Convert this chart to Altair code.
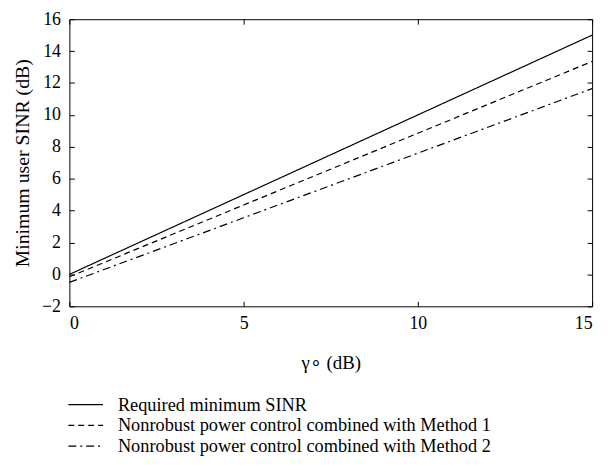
import altair as alt
import pandas as pd

x_vals = [0, 5, 10, 15]
required = [0.0, 5.0, 10.0, 15.0]
method1 = [-0.15, 4.35, 8.85, 13.35]
method2 = [-0.5, 3.55, 7.6, 11.65]
series = [
    "Required minimum SINR",
    "Nonrobust power control combined with Method 1",
    "Nonrobust power control combined with Method 2",
]
x_ticks = [0, 5, 10, 15]
y_ticks = [-2, 0, 2, 4, 6, 8, 10, 12, 14, 16]

rows = []
for name, vals in zip(series, [required, method1, method2]):
    for x, y in zip(x_vals, vals):
        rows.append({"x": x, "y": y, "series": name})
df = pd.DataFrame(rows)

FONT = "Liberation Serif, Times New Roman, serif"

chart = alt.Chart(df).mark_line(color="black", strokeWidth=1.2).encode(
    x=alt.X(
        "x:Q",
        scale=alt.Scale(domain=[0, 15], nice=False, zero=False),
        axis=alt.Axis(
            values=x_ticks, title="γ∘ (dB)", ticks=False, domain=False,
            grid=True, gridDash=[5, 280], gridColor="black", gridWidth=1, gridOpacity=1,
            labelFont=FONT, labelFontSize=18, labelColor="black", labelPadding=8,
            titleFont=FONT, titleFontSize=19, titleFontWeight="normal", titleColor="black",
            titlePadding=22,
        ),
    ),
    y=alt.Y(
        "y:Q",
        scale=alt.Scale(domain=[-2, 16], nice=False, zero=False),
        axis=alt.Axis(
            values=y_ticks, title="Minimum user SINR (dB)", ticks=False, domain=False,
            grid=True, gridDash=[5, 518], gridColor="black", gridWidth=1, gridOpacity=1,
            labelFont=FONT, labelFontSize=18, labelColor="black", labelPadding=9,
            titleFont=FONT, titleFontSize=20, titleFontWeight="normal", titleColor="black",
            titlePadding=9,
        ),
    ),
    strokeDash=alt.StrokeDash(
        "series:N",
        sort=series,
        scale=alt.Scale(domain=series, range=[[1, 0], [6, 4], [8, 4, 2, 4]]),
        legend=alt.Legend(
            title=None, orient="none", legendX=-2, legendY=380,
            symbolType="stroke", symbolSize=1225, symbolStrokeWidth=1.2,
            symbolStrokeColor="black", labelFont=FONT, labelFontSize=18.5,
            labelColor="black", labelOffset=14, rowPadding=2, padding=0,
            clipHeight=18.5, labelLimit=600,
        ),
    ),
).properties(
    width=528,
    height=290,
    autosize=alt.AutoSizeParams(type="none"),
    padding={"left": 62, "top": 9, "right": 10, "bottom": 160},
).configure(font=FONT).configure_view(stroke="black", strokeWidth=1)

chart.save("out.html", embed_options={"renderer": "svg", "actions": False})
